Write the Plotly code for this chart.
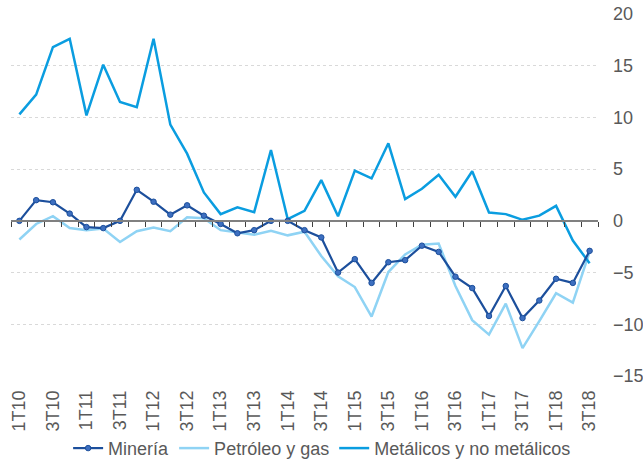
import plotly.graph_objects as go

quarters = ["1T10", "2T10", "3T10", "4T10", "1T11", "2T11", "3T11", "4T11",
            "1T12", "2T12", "3T12", "4T12", "1T13", "2T13", "3T13", "4T13",
            "1T14", "2T14", "3T14", "4T14", "1T15", "2T15", "3T15", "4T15",
            "1T16", "2T16", "3T16", "4T16", "1T17", "2T17", "3T17", "4T17",
            "1T18", "2T18", "3T18"]
tick_labels = ["1T10", "3T10", "1T11", "3T11", "1T12", "3T12", "1T13", "3T13",
               "1T14", "3T14", "1T15", "3T15", "1T16", "3T16", "1T17", "3T17",
               "1T18", "3T18"]

mineria = [0.0, 2.0, 1.8, 0.7, -0.6, -0.7, 0.0, 3.0, 1.85, 0.6, 1.5, 0.5,
           -0.3, -1.2, -0.9, 0.0, 0.0, -0.9, -1.6, -5.0, -3.7, -6.0, -4.0, -3.8,
           -2.4, -3.0, -5.4, -6.5, -9.2, -6.3, -9.4, -7.7, -5.6, -6.0, -2.9]
petroleo = [-1.8, -0.3, 0.45, -0.7, -0.9, -0.75, -2.05, -1.0, -0.65, -1.0, 0.35, 0.25,
            -0.9, -1.15, -1.35, -0.95, -1.4, -1.05, -3.4, -5.35, -6.4, -9.25, -4.95, -3.25,
            -2.3, -2.2, -6.3, -9.6, -11.0, -8.0, -12.3, -9.7, -7.0, -7.9, -3.0]
metalicos = [10.3, 12.2, 16.8, 17.6, 10.2, 15.1, 11.5, 11.0, 17.6, 9.3, 6.5, 2.75,
             0.65, 1.3, 0.84, 6.85, 0.16, 0.97, 3.94, 0.45, 4.85, 4.1, 7.5, 2.1,
             3.1, 4.46, 2.33, 4.8, 0.8, 0.65, 0.1, 0.5, 1.45, -1.9, -4.1]

y_min, y_max = -15, 20
FONT = "Arial, Liberation Sans, sans-serif"
GRAY = "#595959"

fig = go.Figure()
fig.add_trace(go.Scatter(x=quarters, y=petroleo, name="Petróleo y gas", mode="lines",
                         line=dict(color="#8fd3f4", width=2.5), legendrank=2))
fig.add_trace(go.Scatter(x=quarters, y=metalicos, name="Metálicos y no metálicos", mode="lines",
                         line=dict(color="#0a9de0", width=2.5), legendrank=3))
fig.add_trace(go.Scatter(x=quarters, y=mineria, name="Minería", mode="lines+markers",
                         line=dict(color="#1c4f9c", width=2.2),
                         marker=dict(size=5.5, color="#3d6fc0", line=dict(color="#1c4f9c", width=1)),
                         legendrank=1))
# invisible helper trace carrying the bottom tick-label axis
fig.add_trace(go.Scatter(x=quarters, y=mineria, xaxis="x2", mode="lines",
                         opacity=0, showlegend=False, hoverinfo="skip"))

zero_pos = (0 - y_min) / (y_max - y_min)

fig.update_layout(
    width=643, height=460,
    margin=dict(l=11, r=45, t=14, b=84, autoexpand=False),
    paper_bgcolor="white", plot_bgcolor="white",
    font=dict(family=FONT, size=18, color=GRAY),
    showlegend=True,
    legend=dict(orientation="h", x=0.53, xanchor="center", y=-0.2, yanchor="middle",
                font=dict(size=18, color=GRAY), bgcolor="rgba(0,0,0,0)"),
    xaxis=dict(type="category", categoryorder="array", categoryarray=quarters,
               range=[-0.5, len(quarters) - 0.5],
               anchor="free", position=zero_pos, automargin=False,
               showline=True, linecolor="#808080", linewidth=1.5,
               ticks="outside", tickson="boundaries", ticklen=5, tickcolor="#404040",
               tickwidth=1, showticklabels=False, showgrid=False, zeroline=False),
    xaxis2=dict(type="category", categoryorder="array", categoryarray=quarters,
                range=[-0.5, len(quarters) - 0.5], overlaying="x", anchor="y", side="bottom",
                tickmode="array", tickvals=tick_labels, ticktext=tick_labels, automargin=False,
                tickangle=-90, ticks="", showline=False, showgrid=False, zeroline=False,
                ticklabelstandoff=10, ticklabeloverflow="allow",
                tickfont=dict(size=18, color=GRAY)),
    yaxis=dict(side="right", range=[y_min, y_max], dtick=5, tick0=0, automargin=False,
               showgrid=True, gridcolor="#d9d9d9", griddash="dot", gridwidth=1,
               zeroline=False, showline=False, ticks="", ticklabelstandoff=14,
               ticklabeloverflow="allow",
               tickfont=dict(size=18, color=GRAY)),
)

fig.write_html("out.html", config={"displayModeBar": False},
               post_script="document.body.style.margin='0';document.body.style.overflow='hidden';")
